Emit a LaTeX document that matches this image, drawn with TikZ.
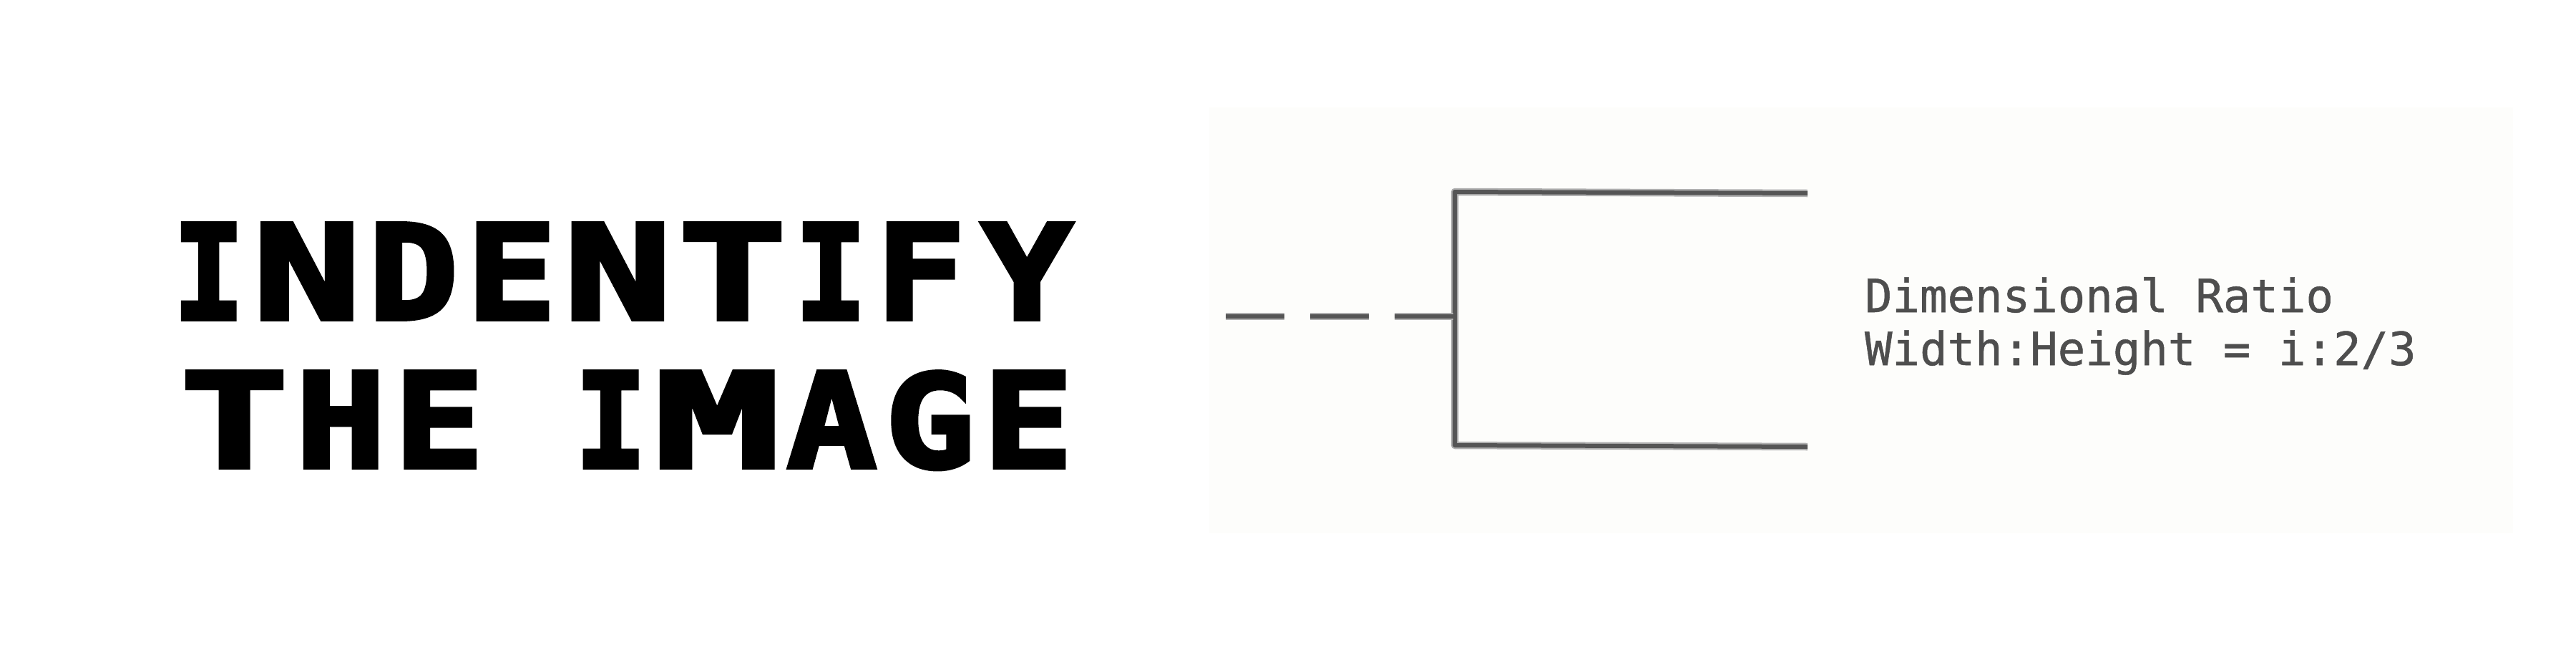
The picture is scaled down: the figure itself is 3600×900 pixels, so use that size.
\documentclass[tikz,border=0pt]{standalone}
\usepackage{fontspec}
\usepackage{graphicx}
\newfontfamily\pixfont[FakeBold=3.2]{DejaVu Sans Mono Bold}
\newfontfamily\notefont[FakeBold=0.8]{DejaVu Sans Mono}
\definecolor{panelcol}{HTML}{FDFDFB}
\definecolor{inkcore}{HTML}{555555}
\definecolor{inkhalo}{HTML}{B0B0B0}
\definecolor{notecol}{HTML}{4E4E4E}
\newlength\cellu \setlength\cellu{22.87pt}
\newlength\plw
\newcommand\plf[3]{\setlength\plw{\dimexpr#2\cellu*#3/100\relax}\makebox[#2\cellu][c]{\resizebox{\plw}{134pt}{#1}}}
\newcommand\pl[2]{\plf{#1}{#2}{110}}
\newcommand\gp{\hspace{\cellu}}
\tikzset{
  titleline/.style={inner sep=0pt,outer sep=0pt,anchor=base west,font=\pixfont\fontsize{200}{200}\selectfont,text=black},
  noteline/.style={inner sep=0pt,outer sep=0pt,anchor=base west,font=\notefont\fontsize{64}{64}\selectfont,text=notecol},
  halo/.style={draw=inkhalo,line width=10.5pt,line join=round},
  core/.style={draw=inkcore,line width=6pt,line join=round}
}
\begin{document}
\begin{tikzpicture}[x=1pt,y=-1pt]
\useasboundingbox (0,0) rectangle (3600,900);
\fill[white] (0,0) rectangle (3600,900);
\fill[panelcol] (1690,150) rectangle (3512,745);
\node[titleline] (title1) at (246,446) {\pl{I}{4}\gp\pl{N}{6}\gp\pl{D}{5}\gp\pl{E}{5}\gp\pl{N}{6}\gp\pl{T}{6}\gp\pl{I}{4}\gp\pl{F}{5}\gp\plf{Y}{6}{93}};
\node[titleline] (title2) at (259,653) {\pl{T}{6}\gp\pl{H}{5}\gp\pl{E}{5}\hspace{6\cellu}\pl{I}{4}\gp\pl{M}{7}\gp\pl{A}{5}\gp\pl{G}{5}\gp\pl{E}{5}};
\coordinate (topend) at (2526,270);
\coordinate (topcorner) at (2033,268);
\coordinate (botcorner) at (2033,622);
\coordinate (botend) at (2526,624);
\coordinate (junction) at (2033,442);
\coordinate (dashstart) at (1713,442);
\draw[halo] (topend) -- (topcorner) -- (botcorner) -- (botend);
\draw[core] (topend) -- (topcorner) -- (botcorner) -- (botend);
\draw[halo,dash pattern=on 82pt off 36pt] (dashstart) -- (junction);
\draw[core,dash pattern=on 82pt off 36pt] (dashstart) -- (junction);
\node[noteline] (note1) at (2606,436) {Dimensional Ratio};
\node[noteline] (note2) at (2606,510) {Width:Height = i:2/3};
\end{tikzpicture}
\end{document}
